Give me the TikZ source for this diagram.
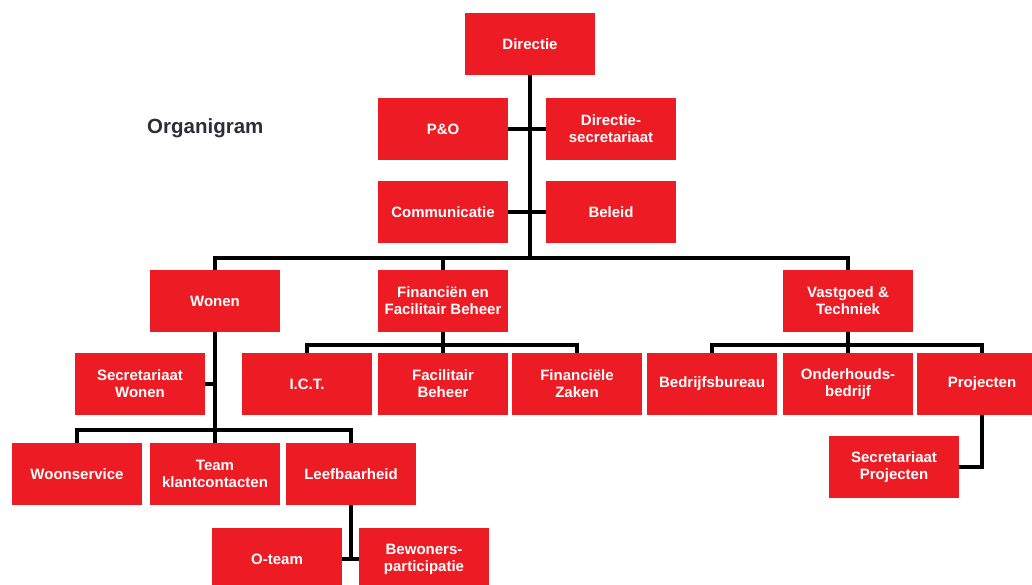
\documentclass[tikz,border=0pt]{standalone}
\usepackage{fontspec}
\setmainfont{Liberation Sans}
\usetikzlibrary{positioning}
\definecolor{orgred}{RGB}{237,28,36}
\definecolor{titlegray}{RGB}{45,45,58}
\begin{document}
\begin{tikzpicture}[x=1pt, y=-1pt,
  box/.style={rectangle, fill=orgred, text=white, align=center,
    font=\bfseries\fontsize{15}{17}\selectfont,
    minimum width=130pt, minimum height=62pt, inner sep=0pt},
  link/.style={line width=3.5pt},
  node distance=136pt
]
\useasboundingbox (0,0) rectangle (1032,584);

\node[anchor=base west, inner sep=0pt, text=titlegray,
  font=\bfseries\fontsize{20.5}{24}\selectfont] (title) at (147,133) {Organigram};

% top
\node[box] (directie) at (530,44) {Directie};
\node[box] (pno) at (443,129) {P\&O};
\node[box, right of=pno, node distance=168pt] (dirsec) {Directie-\\secretariaat};
\node[box] (comm) at (443,212) {Communicatie};
\node[box, right of=comm, node distance=168pt] (beleid) {Beleid};

% afdelingen
\node[box] (wonen) at (215,301) {Wonen};
\node[box] (finan) at (443,301) {Financiën en\\Facilitair Beheer};
\node[box] (vastgoed) at (848,301) {Vastgoed \&\\Techniek};

\node[box] (secwonen) at (140,384) {Secretariaat\\Wonen};
\node[box] (ict) at (307,384) {I.C.T.};
\node[box, right of=ict] (facbeh) {Facilitair\\Beheer};
\node[box, right of=facbeh, node distance=134pt] (finzaken) {Financiële\\Zaken};
\node[box] (bedrijf) at (712,384) {Bedrijfsbureau};
\node[box, right of=bedrijf] (onderh) {Onderhouds-\\bedrijf};
\node[box, right of=onderh, node distance=134pt] (projecten) {Projecten};
\node[box] (secproj) at (894,467) {Secretariaat\\Projecten};

\node[box] (woonservice) at (77,474) {Woonservice};
\node[box, right of=woonservice, node distance=138pt] (team) {Team\\klantcontacten};
\node[box, right of=team] (leefb) {Leefbaarheid};
\node[box] (oteam) at (277,559) {O-team};
\node[box, right of=oteam, node distance=147pt] (bewoners) {Bewoners-\\participatie};

% lijnen
\coordinate (hub) at (530,258);
\coordinate (fbus) at (443,345);
\coordinate (vbus) at (848,345);
\coordinate (wbus) at (215,430);

\draw[link] (directie.south) -- (hub);
\draw[link] (pno.east) -- (dirsec.west);
\draw[link] (comm.east) -- (beleid.west);
\draw[link] (wonen.north) |- (hub) -| (vastgoed.north);
\draw[link] (finan.north) -- (finan.north |- hub);

\draw[link] (finan.south) -- (facbeh.north);
\draw[link] (ict.north) |- (fbus) -| (finzaken.north);

\draw[link] (vastgoed.south) -- (onderh.north);
\draw[link] (bedrijf.north) |- (vbus) -| (projecten.north);
\draw[link] (projecten.south) |- (secproj.east);

\draw[link] (wonen.south) -- (team.north);
\draw[link] (secwonen.east) -- (secwonen.east -| wonen.south);
\draw[link] (woonservice.north) |- (wbus) -| (leefb.north);

\draw[link] (leefb.south) -- (leefb.south |- oteam.east);
\draw[link] (oteam.east) -- (bewoners.west);
\end{tikzpicture}
\end{document}
